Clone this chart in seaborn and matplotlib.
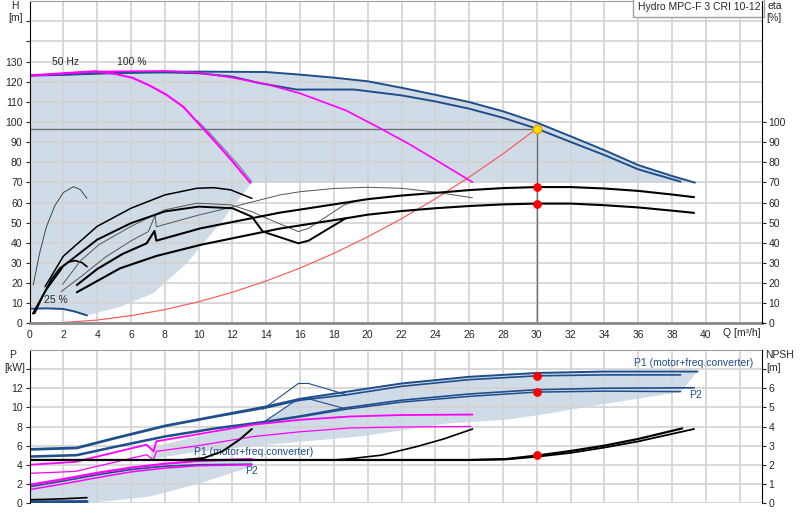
import matplotlib
matplotlib.use("Agg")
import matplotlib.pyplot as plt
import seaborn as sns
import numpy as np

# ---------------- data ----------------
# top panel: Q [m3/h] vs H [m]
q_max = [0, 2, 4, 6, 8, 10, 12, 14, 16, 18, 20, 22, 24, 26, 28, 30, 32, 34, 36, 38, 39.35]
h_max = [123.3, 123.6, 124.2, 124.6, 125.0, 125.0, 124.9, 124.8, 123.5, 122.0, 120.2, 117.0,
         113.5, 109.9, 105.3, 99.7, 92.9, 86.0, 78.6, 73.2, 69.9]
q_dual = [0, 2, 4, 6, 8, 10, 12, 13.6, 15.8, 19.2, 22, 24, 26, 28, 30, 32, 34, 36, 38.5]
h_dual = [123.0, 123.4, 124.0, 124.4, 124.6, 124.2, 122.5, 119.3, 116.1, 116.1, 113.2, 110.2,
          106.6, 102.1, 96.7, 90.1, 83.6, 76.5, 70.4]
q_one = [0, 2, 3.9, 5.1, 6.1, 7.1, 8.1, 9.1, 10.1, 11.0, 12.0, 13.05]
h_one = [123.0, 124.2, 125.2, 123.8, 121.9, 118.1, 113.5, 107.5, 98.3, 90.0, 80.5, 69.9]
q_one_b = [9.9, 10.6, 11.4, 12.3, 13.15]
h_one_b = [100.8, 95.0, 87.6, 79.2, 70.3]
q_two = [0, 2, 4, 6, 8, 10, 12, 14, 16, 18.7, 20.6, 22.4, 24.2, 26.2]
h_two = [123.0, 124.0, 125.0, 125.2, 125.3, 124.5, 122.0, 118.8, 114.2, 105.8, 97.5, 89.3, 80.3, 70.1]
q_min = [0, 1, 2, 2.7, 3.4]
h_min = [7.3, 7.5, 7.2, 5.9, 4.0]
# lower-left edge of the operating range
q_edge = [3.4, 5.36, 7.33, 9.3, 11.27, 13.15, 39.35]
h_edge = [4.0, 8.3, 15.0, 29.9, 49.7, 69.9, 69.9]
# system curve
q_sys = [0, 2, 4, 6, 8, 10, 12, 14, 16, 18, 20, 22, 24, 26, 28, 30]
h_sys = [0, 0.5, 1.7, 3.9, 6.9, 10.8, 15.5, 21.1, 27.5, 34.8, 43.0, 52.0, 61.9, 72.6, 84.2, 96.7]
q_op, h_op = 30, 96.7

# efficiency curves, eta [%]
q_eta_a = [0.2, 1, 2, 4, 6, 8, 10, 12, 13.15, 13.8, 15.9, 16.5, 18.7]
e_eta_a = [4.9, 17, 28.5, 41.6, 49.8, 55.6, 58, 57.2, 53, 45.6, 39.8, 41.1, 52.2]
q_eta_b = [0.92, 2, 4, 6, 8, 9.9, 10.9, 11.9, 13.15]
e_eta_b = [18.3, 33.4, 48.2, 57.2, 63.8, 67.1, 67.4, 66.3, 62.1]
q_eta_c = [1.96, 3, 4.1, 6, 8, 9.9, 11.9, 13.15, 13.8, 15.9, 16.5, 18.6, 19.5]
e_eta_c = [19.4, 31, 39.1, 48.2, 56.4, 59.7, 58.9, 55.5, 53, 45.6, 47.2, 58.8, 61.2]
q_eta_d = [1.87, 3, 4.5, 6, 7.03, 7.43, 7.5, 10, 12, 14.8, 16, 18, 20, 22, 24, 26.2]
e_eta_d = [15.8, 23, 33, 41, 45.6, 53.8, 48, 53.8, 57.8, 63.8, 65.4, 67, 67.6, 67.1, 65.2, 62.4]
q_eta_hi = [2.8, 4, 5.5, 6.93, 7.39, 7.5, 10.1, 14.8, 18.7, 20, 22, 24, 26, 28, 30, 32, 34, 36, 38, 39.3]
e_eta_hi = [19.1, 27, 34.5, 39.8, 45.9, 41.1, 47.2, 55, 60, 61.7, 63.5, 64.8, 66.2, 67.2, 67.7,
            67.7, 67.0, 65.8, 64.0, 62.7]
q_eta_lo = [2.8, 5.36, 7.5, 10.1, 14.8, 18.7, 20, 22, 24, 26, 28, 30, 32, 34, 36, 38, 39.3]
e_eta_lo = [15.5, 27.4, 33.5, 39, 47.1, 52.2, 54, 55.8, 57.2, 58.3, 59.1, 59.5, 59.5, 58.7, 57.6,
            56.0, 54.9]
q_eta_arch = [0.22, 0.6, 1.0, 1.5, 2.0, 2.6, 3.0, 3.4]
e_eta_arch = [19.1, 35, 48, 58.5, 65, 67.9, 66.5, 62.1]
q_eta_small = [0.3, 0.8, 1.3, 1.8, 2.3, 2.7, 3.1, 3.4]
e_eta_small = [5, 14, 22, 27.5, 30.5, 31.2, 30.2, 28.2]
eta_op = [67.7, 59.5]

# bottom panel: power P [kW]
q_p1a = [0, 2.8, 5, 8, 11, 14, 16, 19, 22, 26, 30, 34, 39.5]
p_p1a = [5.65, 5.8, 6.8, 8.1, 9.1, 10.1, 10.9, 11.7, 12.5, 13.2, 13.6, 13.75, 13.75]
q_p1b = [0, 2.8, 5, 8, 11, 14, 16, 18.7, 22, 26, 30, 34, 38.5]
p_p1b = [5.55, 5.7, 6.7, 8.0, 9.0, 9.95, 10.75, 11.3, 12.2, 12.9, 13.3, 13.4, 13.4]
q_p1z = [13.8, 15.9, 16.5, 18.7]
p_p1z = [9.8, 12.5, 12.5, 11.35]
q_p2a = [0, 2.8, 5, 8, 11, 14, 16, 18.7, 22, 26, 30, 34, 39.3]
p_p2a = [4.9, 5.05, 5.9, 7.0, 7.85, 8.55, 9.1, 9.95, 10.75, 11.4, 11.85, 12.0, 12.05]
q_p2b = [0, 2.8, 5, 8, 11, 14, 16, 18.7, 22, 26, 30, 34, 38.5]
p_p2b = [4.8, 4.95, 5.8, 6.9, 7.75, 8.45, 9.0, 9.8, 10.55, 11.15, 11.6, 11.7, 11.65]
q_p2z = [13.8, 15.9, 16.5, 18.7]
p_p2z = [8.4, 10.9, 10.9, 9.85]
q_m1 = [0, 2.7, 6.93, 7.33, 7.5, 10, 13.25, 16, 19, 22, 26.2]
p_m1 = [4.0, 4.3, 6.1, 5.4, 6.45, 7.2, 8.2, 8.7, 9.05, 9.2, 9.25]
q_m2 = [0, 2.7, 6.93, 7.33, 7.5, 10, 13.25, 16, 19, 22, 26.1]
p_m2 = [3.1, 3.3, 5.05, 4.5, 5.4, 6.0, 6.95, 7.45, 7.85, 7.95, 8.0]
q_single = [0, 2, 4, 6, 8, 10, 13.15]
p_m3 = [1.9, 2.5, 3.15, 3.7, 4.1, 4.4, 4.6]
p_m4 = [1.4, 2.0, 2.65, 3.25, 3.65, 3.9, 4.0]
p_b_single = [1.7, 2.3, 2.95, 3.5, 3.85, 4.0, 4.05]
q_p_min = [0, 1, 2, 3.4]
p_p_min = [0.12, 0.12, 0.13, 0.15]
p_op = [13.3, 11.6]
# shaded power ranges
q_band_top = [7.2, 10, 13.8, 16, 18.7, 22, 26, 30, 34, 39.5]
p_band_top = [5.8, 7.0, 8.5, 10.9, 11.5, 12.5, 13.2, 13.6, 13.75, 13.75]
q_band_bot = [38.5, 34.5, 30.3, 28.2, 24.6, 19.8, 13.5, 9.7, 7.2]
p_band_bot = [11.6, 10.5, 9.25, 8.7, 8.3, 7.0, 6.0, 5.3, 4.6]
q_low_bot = [13.15, 10.1, 7.1, 5, 3.4, 0]
p_low_bot = [3.8, 2.07, 0.67, 0.25, 0.0, 0.0]

# NPSH [m]
q_n1a = [0, 10, 20, 26, 28.2, 30, 32, 34, 36, 38.6]
n_n1a = [2.25, 2.25, 2.25, 2.25, 2.3, 2.48, 2.72, 3.0, 3.35, 3.9]
q_n1b = [26, 28.2, 30, 32, 34, 36, 39.3]
n_n1b = [2.25, 2.28, 2.42, 2.62, 2.9, 3.22, 3.87]
q_n2 = [18, 18.8, 20.8, 22.9, 24.5, 26.2]
n_n2 = [2.25, 2.3, 2.5, 2.95, 3.35, 3.87]
q_n3 = [9, 10.3, 11.4, 12.4, 13.15]
n_n3 = [2.25, 2.35, 2.7, 3.3, 3.87]
q_n4 = [0, 1, 2, 3.4]
n_n4 = [0.17, 0.19, 0.22, 0.28]
npsh_op = 2.5

# ---------------- style ----------------
sns.set_style("white")
plt.rcParams['font.family'] = ['Liberation Sans', 'DejaVu Sans']
plt.rcParams['font.size'] = 7.5

BLUE = '#1f4e8c'
MAG = '#ff00ff'
SHADE = '#cfdbe6'
GRID = '#d2d2d2'


def line(ax, q, v, color, lw=1.0, z=2):
    sns.lineplot(x=q, y=v, ax=ax, color=color, lw=lw, sort=False, estimator=None,
                 legend=False, zorder=z)


def style_axes(ax, ax2):
    ax.grid(True, color=GRID, lw=1.2)
    ax.set_axisbelow(True)
    ax.spines['left'].set_color('black')
    ax.spines['top'].set_color('#a0a0a0')
    ax.spines['right'].set_visible(False)
    for s in ['left', 'top', 'bottom']:
        ax2.spines[s].set_visible(False)
    ax2.spines['right'].set_color('black')
    ax.tick_params(direction='out', length=3, width=0.8, labelsize=7.5, pad=2)
    ax2.tick_params(direction='out', length=3, width=0.8, labelsize=7.5, pad=2)


fig = plt.figure(figsize=(8, 5.2), dpi=100)
ax = fig.add_axes([0.0369, 0.3779, 0.9152, 0.620])
axb = fig.add_axes([0.0369, 0.0327, 0.9152, 0.2942])
ax_eta = ax.twinx()
ax_npsh = axb.twinx()

xmax = 43.3
xt = np.arange(0, 43, 2)

# ---------------- top panel ----------------
env_q = q_max + q_edge[::-1] + q_min[::-1]
env_h = h_max + h_edge[::-1] + h_min[::-1]
ax.fill(env_q, env_h, color=SHADE, lw=0, zorder=0.2)

ax.plot([0, q_op], [h_op, h_op], color='#707070', lw=1, zorder=1.8)
ax.plot([q_op, q_op], [0, h_op], color='#707070', lw=1, zorder=1.8)
line(ax, q_sys, h_sys, '#ff5050', 0.8)
line(ax, q_max, h_max, BLUE, 1.4)
line(ax, q_dual, h_dual, BLUE, 1.4)
line(ax, q_one_b, h_one_b, '#6a7f99', 0.8)
line(ax, q_one, h_one, MAG, 1.5)
line(ax, q_two, h_two, MAG, 1.2)
line(ax, q_min, h_min, BLUE, 1.4)

ax.text(1.35, 129.8, '50 Hz', va='center', ha='left')
ax.text(5.2, 129.8, '100 %', va='center', ha='left')
ax.text(0.85, 11.5, '25 %', va='center', ha='left')

ax.set_xlim(0, xmax)
ax.set_ylim(0, 160)
ax.set_xticks(xt)
ax.set_xticklabels([str(v) if v <= 40 else '' for v in xt])
ax.set_yticks(np.arange(0, 151, 10))
ax.set_yticklabels([str(v) if v <= 130 else '' for v in range(0, 151, 10)])
ax.spines['bottom'].set_color('#8a8a8a')
ax.spines['bottom'].set_linewidth(2)
ax.text(41.0, -0.03, 'Q [m³/h]', transform=ax.get_xaxis_transform(), va='center', ha='left')
ax.text(0.998, 0.996, 'Hydro MPC-F 3 CRI 10-12', transform=ax.transAxes, ha='right', va='top',
        zorder=5, bbox=dict(boxstyle='square,pad=0.4', fc='white', ec='#a0a0a0', lw=1))

# efficiency
line(ax_eta, q_eta_arch, e_eta_arch, '#444444', 0.7)
line(ax_eta, q_eta_small, e_eta_small, 'black', 1.2)
line(ax_eta, q_eta_c, e_eta_c, '#555555', 0.7)
line(ax_eta, q_eta_d, e_eta_d, '#555555', 0.7)
line(ax_eta, q_eta_b, e_eta_b, 'black', 1.1)
line(ax_eta, q_eta_a, e_eta_a, 'black', 1.4)
line(ax_eta, q_eta_hi, e_eta_hi, 'black', 1.5)
line(ax_eta, q_eta_lo, e_eta_lo, 'black', 1.5)
ax_eta.scatter([q_op, q_op], eta_op, s=28, color='#ff0000', zorder=4)
ax_eta.scatter([q_op], [h_op], s=36, color='#ffe000', edgecolor='#f0a000', lw=1, zorder=5)
ax_eta.set_ylim(0, 160)
ax_eta.set_yticks(np.arange(0, 101, 10))
style_axes(ax, ax_eta)

# ---------------- bottom panel ----------------
axb.fill(q_band_top + q_band_bot, p_band_top + p_band_bot, color=SHADE, lw=0, zorder=0.2)
axb.fill(q_single + q_low_bot, p_m3 + p_low_bot, color=SHADE, lw=0, zorder=0.2)

line(axb, q_p1z, p_p1z, BLUE, 0.8)
line(axb, q_p2z, p_p2z, BLUE, 0.8)
line(axb, q_p1a, p_p1a, BLUE, 1.4)
line(axb, q_p1b, p_p1b, BLUE, 1.2)
line(axb, q_p2a, p_p2a, BLUE, 1.2)
line(axb, q_p2b, p_p2b, BLUE, 1.1)
line(axb, q_m1, p_m1, MAG, 1.3)
line(axb, q_m2, p_m2, MAG, 0.9)
line(axb, q_single, p_b_single, BLUE, 1.2)
line(axb, q_single, p_m4, MAG, 1.1)
line(axb, q_single, p_m3, MAG, 1.6)
line(axb, q_p_min, p_p_min, BLUE, 2.2)
axb.scatter([q_op, q_op], p_op, s=28, color='#ff0000', zorder=4)

axb.text(9.7, 5.35, 'P1 (motor+freq.converter)', color=BLUE, va='center', ha='left')
axb.text(12.75, 3.3, 'P2', color=BLUE, va='center', ha='left')
axb.text(42.8, 14.6, 'P1 (motor+freq.converter)', color=BLUE, va='center', ha='right')
axb.text(39.0, 11.25, 'P2', color=BLUE, va='center', ha='left')

axb.set_xlim(0, xmax)
axb.set_ylim(0, 16)
axb.set_xticks(xt)
axb.tick_params(axis='x', labelbottom=False, length=0)
axb.set_yticks(np.arange(0, 15, 2))
axb.set_yticklabels([str(v) if v <= 12 else '' for v in range(0, 15, 2)])
axb.spines['bottom'].set_visible(False)

line(ax_npsh, q_n4, n_n4, 'black', 1.2)
line(ax_npsh, q_n3, n_n3, 'black', 1.4)
line(ax_npsh, q_n2, n_n2, 'black', 1.2)
line(ax_npsh, q_n1b, n_n1b, 'black', 1.3)
line(ax_npsh, q_n1a, n_n1a, 'black', 1.6)
ax_npsh.scatter([q_op], [npsh_op], s=28, color='#ff0000', zorder=4)
ax_npsh.set_ylim(0, 8)
ax_npsh.set_yticks(np.arange(0, 8, 1))
ax_npsh.set_yticklabels([str(v) if v <= 6 else '' for v in range(0, 8)])
style_axes(axb, ax_npsh)

# axis titles
fig.text(15 / 800, 1 - 6 / 520, 'H', ha='center', va='center')
fig.text(16 / 800, 1 - 18 / 520, '[m]', ha='center', va='center')
fig.text(775 / 800, 1 - 6 / 520, 'eta', ha='center', va='center')
fig.text(774 / 800, 1 - 18 / 520, '[%]', ha='center', va='center')
fig.text(13 / 800, 1 - 355 / 520, 'P', ha='center', va='center')
fig.text(15 / 800, 1 - 368 / 520, '[kW]', ha='center', va='center')
fig.text(780 / 800, 1 - 355 / 520, 'NPSH', ha='center', va='center')
fig.text(774 / 800, 1 - 368 / 520, '[m]', ha='center', va='center')

fig.savefig('out.png', dpi=100)
